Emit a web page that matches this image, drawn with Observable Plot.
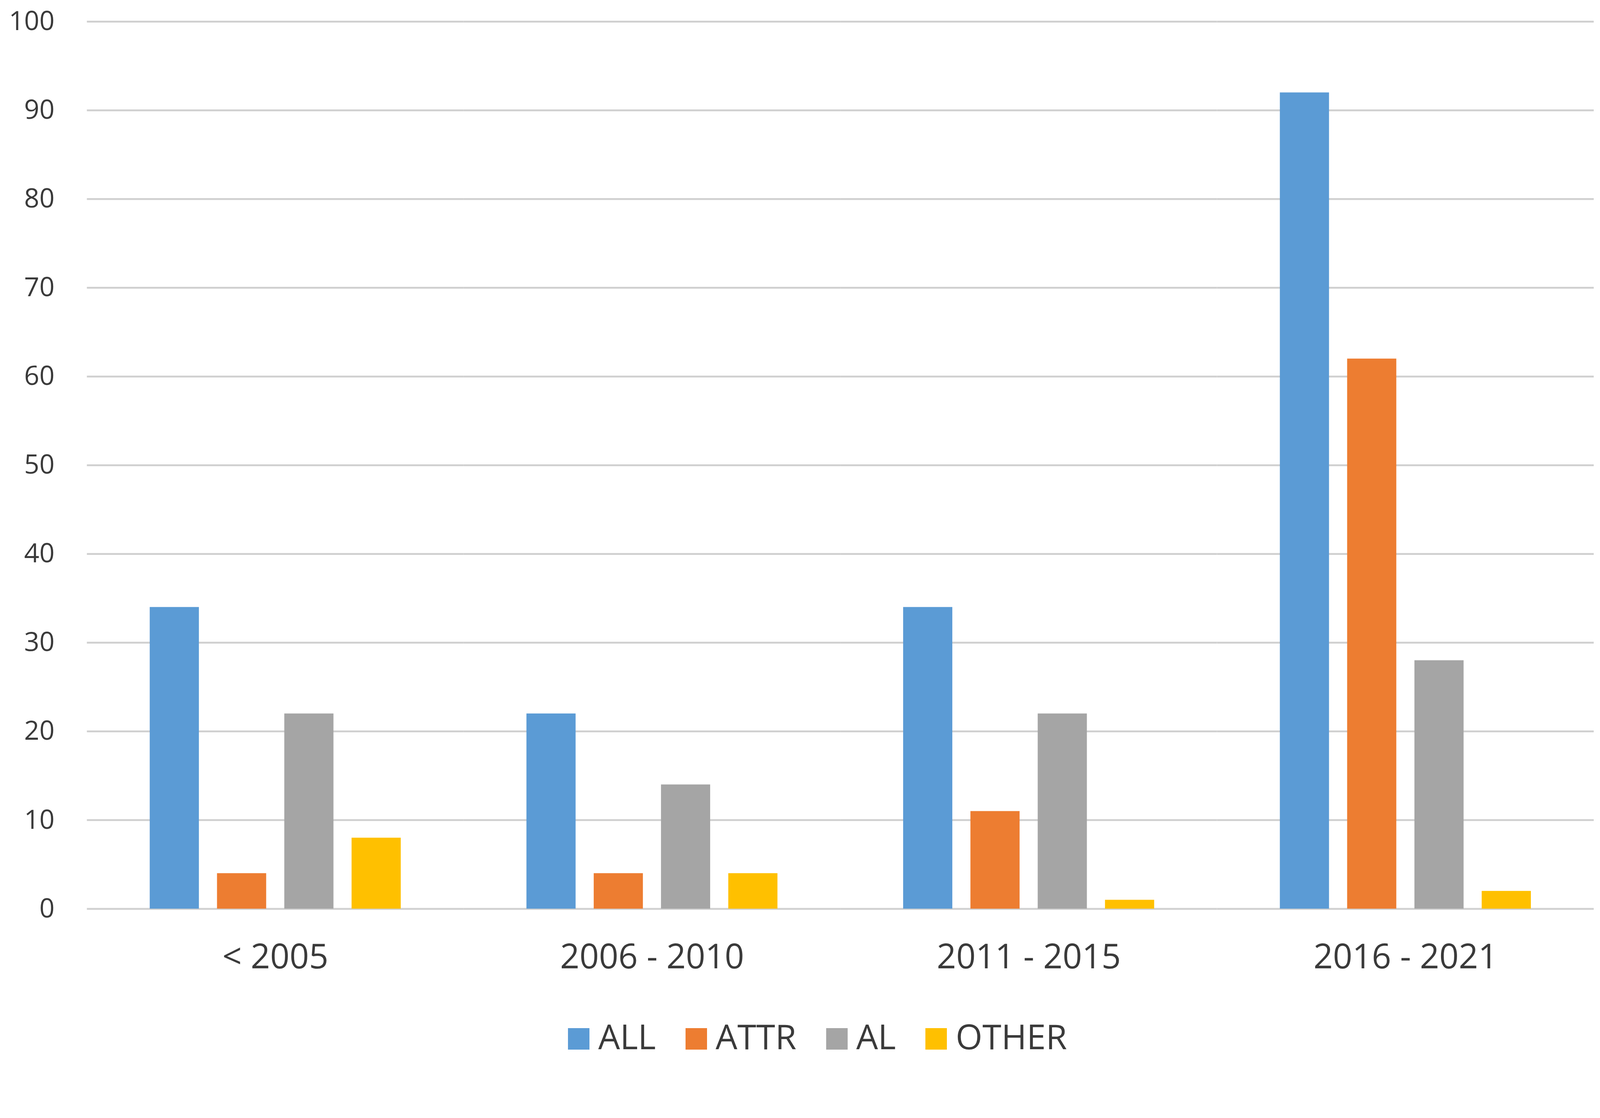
<!DOCTYPE html>
<html><head><meta charset="utf-8">
<script src="https://cdn.jsdelivr.net/npm/d3@7"></script>
<script src="https://cdn.jsdelivr.net/npm/@observablehq/plot@0.6"></script>
<style>
html,body{margin:0;background:#fff;overflow:hidden;font-family:"Open Sans",sans-serif;height:2861px;}
#chart svg{display:block;}
#legend{display:flex;justify-content:center;align-items:center;height:126px;padding-left:90px;font-size:88px;color:#3a3a3a;}
#legend .item{display:flex;align-items:center;margin:0 38px;}
#legend .sw{width:55px;height:55px;margin-right:22px;margin-top:14px;}
</style>
</head><body><div id="chart"></div><div id="legend"></div>
<script>
const periods = ["< 2005", "2006 - 2010", "2011 - 2015", "2016 - 2021"];
const seriesNames = ["ALL", "ATTR", "AL", "OTHER"];
const allValues = [34, 22, 34, 92];
const attrValues = [4, 4, 11, 62];
const alValues = [22, 14, 22, 28];
const otherValues = [8, 4, 1, 2];
const seriesColors = ["#5B9BD5", "#ED7D31", "#A5A5A5", "#FFC000"];
const yTicks = [0, 10, 20, 30, 40, 50, 60, 70, 80, 90, 100];

const valuesBySeries = [allValues, attrValues, alValues, otherValues];
const data = [];
periods.forEach((p, i) => {
  seriesNames.forEach((s, j) => data.push({period: p, series: s, value: valuesBySeries[j][i]}));
});

const chart = Plot.plot({
  width: 4328,
  height: 2735,
  marginTop: 58,
  marginLeft: 235,
  marginRight: 17,
  marginBottom: 278,
  fx: {domain: periods, padding: 0, label: null, axis: null},
  x: {domain: seriesNames, paddingInner: 0.27, paddingOuter: 0.92, axis: null},
  y: {domain: [0, 100], label: null, axis: null},
  color: {domain: seriesNames, range: seriesColors},
  style: {fontFamily: "'Open Sans', sans-serif", color: "#3a3a3a", background: "#fff"},
  marks: [
    Plot.gridY(yTicks, {stroke: "#d0d0d0", strokeOpacity: 1, strokeWidth: 5}),
    Plot.barY(data, {fx: "period", x: "series", y: "value", fill: "series"}),
    Plot.axisY({ticks: yTicks, tickSize: 0, tickPadding: 88, fontSize: 72, label: null}),
    Plot.axisFx({anchor: "bottom", tickSize: 0, tickPadding: 96, fontSize: 92, label: null})
  ]
});
document.getElementById("chart").appendChild(chart);

const legend = document.getElementById("legend");
seriesNames.forEach((s, j) => {
  const item = document.createElement("div");
  item.className = "item";
  const sw = document.createElement("span");
  sw.className = "sw";
  sw.style.background = seriesColors[j];
  const t = document.createElement("span");
  t.textContent = s;
  item.appendChild(sw);
  item.appendChild(t);
  legend.appendChild(item);
});
</script>
</body></html>
